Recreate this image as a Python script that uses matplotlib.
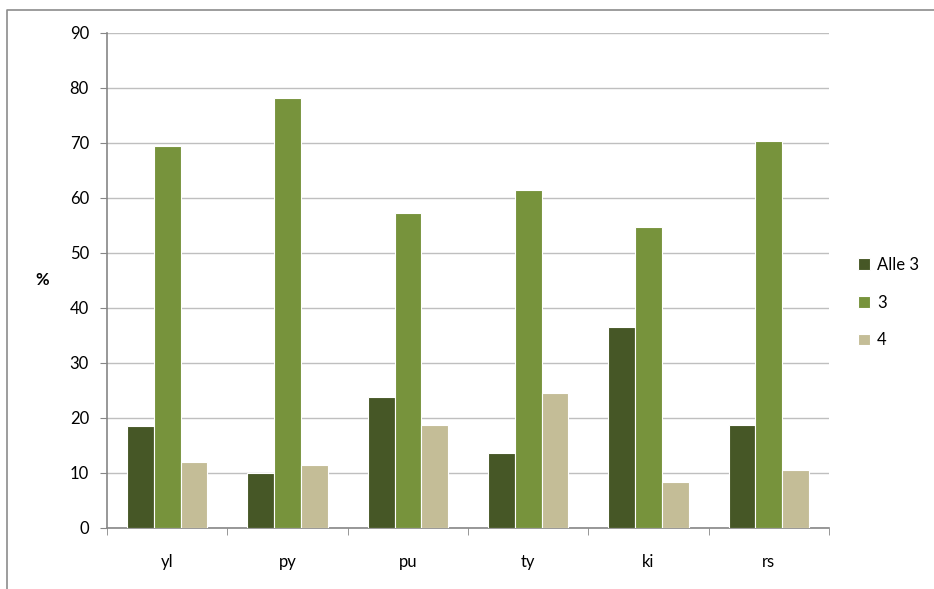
import numpy as np
import matplotlib.pyplot as plt
from matplotlib.lines import Line2D

plt.rcParams['font.family'] = ['Lato', 'DejaVu Sans']

categories = ['yl', 'py', 'pu', 'ty', 'ki', 'rs']
alle3 = [18.5, 10.0, 23.8, 13.6, 36.6, 18.8]
three = [69.4, 78.2, 57.3, 61.5, 54.8, 70.4]
four = [12.0, 11.5, 18.7, 24.5, 8.4, 10.6]
series_names = ['Alle 3', '3', '4']
colors = ['#465726', '#77933C', '#C4BD97']

fig = plt.figure(figsize=(9.34, 5.89), dpi=100)
ax = fig.add_axes([0.1146, 0.1036, 0.7730, 0.8404])

# chart-area border: only top and left edges are visible in the original
fig.lines.append(Line2D([0.008, 0.008, 1.0], [0.0, 0.983, 0.983], transform=fig.transFigure,
                        color='#8C8C8C', linewidth=1.2))

x = np.arange(len(categories))
w = 0.222
for i, (vals, name, c) in enumerate(zip([alle3, three, four], series_names, colors)):
    ax.bar(x + (i - 1) * w, vals, width=w, color=c, edgecolor='white',
           linewidth=0.8, label=name, zorder=3)

ax.set_xlim(-0.5, len(categories) - 0.5)
ax.set_ylim(0, 90)
ax.set_yticks(range(0, 91, 10))
ax.yaxis.grid(True, color='#BFBFBF', linewidth=1.0, zorder=0)
ax.set_axisbelow(True)

ax.set_xticks(x)
ax.set_xticklabels(categories, fontsize=12)
ax.set_xticks(np.arange(-0.5, len(categories)), minor=True)
ax.tick_params(axis='x', which='major', length=0, pad=19)
ax.tick_params(axis='x', which='minor', length=5, color='#868686', direction='out')
ax.tick_params(axis='y', length=5, color='#868686', labelsize=12, pad=8)

for s in ['top', 'right']:
    ax.spines[s].set_visible(False)
ax.spines['left'].set_color('#868686')
ax.spines['bottom'].set_color('#868686')
ax.spines['left'].set_linewidth(1.2)
ax.spines['bottom'].set_linewidth(1.2)

ax.set_ylabel('%', rotation=0, fontsize=12, fontweight='bold', va='center', ha='center')
ax.yaxis.set_label_coords(-65 / 722, 0.5)

ax.legend(loc='center left', bbox_to_anchor=(1.02, 0.455), frameon=False, fontsize=12,
          handlelength=0.7, handleheight=0.7, handletextpad=0.4, labelspacing=1.3)

fig.savefig('out.png', dpi=100)
